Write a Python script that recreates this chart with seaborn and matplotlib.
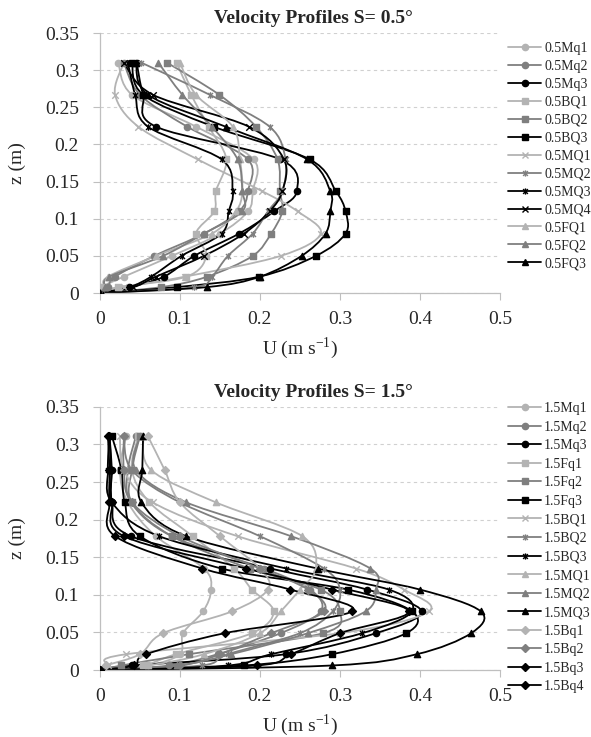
import numpy as np
import matplotlib
matplotlib.use("Agg")
import matplotlib.pyplot as plt
from matplotlib.path import Path
from matplotlib.patches import PathPatch
from matplotlib.lines import Line2D
import seaborn as sns

# depth levels (m)
z_top = [0, 0.008, 0.022, 0.05, 0.08, 0.11, 0.137, 0.18, 0.224, 0.267, 0.31]
z_bot = [0, 0.006, 0.021, 0.049, 0.078, 0.107, 0.135, 0.178, 0.223, 0.266, 0.311]

# S = 0.5 deg, velocity U (m/s) at each z_top level
u05_Mq1 = [0, 0.002, 0.03, 0.09, 0.15, 0.185, 0.191, 0.192, 0.12, 0.04, 0.023]
u05_Mq2 = [0, 0.01, 0.019, 0.068, 0.13, 0.174, 0.185, 0.185, 0.109, 0.05, 0.03]
u05_Mq3 = [0, 0.037, 0.08, 0.118, 0.174, 0.218, 0.246, 0.225, 0.07, 0.054, 0.046]
u05_BQ1 = [0, 0.023, 0.108, 0.133, 0.12, 0.143, 0.145, 0.158, 0.136, 0.114, 0.096]
u05_BQ2 = [0, 0.077, 0.134, 0.191, 0.214, 0.228, 0.225, 0.222, 0.195, 0.149, 0.084]
u05_BQ3 = [0, 0.096, 0.199, 0.27, 0.307, 0.307, 0.295, 0.262, 0.142, 0.054, 0.04]
u05_MQ1 = [0, 0.03, 0.106, 0.226, 0.276, 0.247, 0.203, 0.122, 0.048, 0.019, 0.03]
u05_MQ2 = [0, 0.118, 0.14, 0.16, 0.191, 0.21, 0.228, 0.232, 0.212, 0.137, 0.052]
u05_MQ3 = [0, 0.037, 0.064, 0.102, 0.152, 0.161, 0.166, 0.152, 0.06, 0.044, 0.035]
u05_MQ4 = [0, 0.042, 0.07, 0.13, 0.18, 0.212, 0.228, 0.23, 0.186, 0.066, 0.03]
u05_FQ1 = [0, 0.005, 0.01, 0.07, 0.14, 0.17, 0.178, 0.175, 0.166, 0.12, 0.1]
u05_FQ2 = [0, 0.006, 0.012, 0.079, 0.13, 0.178, 0.178, 0.172, 0.14, 0.103, 0.073]
u05_FQ3 = [0, 0.134, 0.2, 0.252, 0.282, 0.288, 0.288, 0.259, 0.157, 0.06, 0.045]

# S = 1.5 deg, velocity U (m/s) at each z_bot level
u15_Mq1 = [0, 0.06, 0.1, 0.104, 0.129, 0.139, 0.13, 0.07, 0.035, 0.025, 0.033]
u15_Mq2 = [0, 0.087, 0.147, 0.226, 0.276, 0.263, 0.205, 0.09, 0.039, 0.035, 0.045]
u15_Mq3 = [0, 0.04, 0.232, 0.345, 0.402, 0.334, 0.213, 0.039, 0.015, 0.015, 0.012]
u15_Fq1 = [0, 0.054, 0.095, 0.19, 0.217, 0.19, 0.168, 0.116, 0.062, 0.04, 0.048]
u15_Fq2 = [0, 0.027, 0.111, 0.279, 0.3, 0.276, 0.187, 0.09, 0.04, 0.04, 0.05]
u15_Fq3 = [0, 0.18, 0.29, 0.383, 0.39, 0.31, 0.152, 0.05, 0.031, 0.027, 0.015]
u15_BQ1 = [0, 0.01, 0.033, 0.3, 0.411, 0.38, 0.32, 0.172, 0.066, 0.03, 0.025]
u15_BQ2 = [0, 0.127, 0.16, 0.25, 0.291, 0.3, 0.28, 0.2, 0.1, 0.04, 0.03]
u15_BQ3 = [0, 0.16, 0.214, 0.328, 0.39, 0.361, 0.233, 0.074, 0.015, 0.01, 0.012]
u15_MQ1 = [0, 0.06, 0.13, 0.2, 0.226, 0.25, 0.27, 0.253, 0.145, 0.064, 0.054]
u15_MQ2 = [0, 0.097, 0.164, 0.26, 0.332, 0.345, 0.338, 0.239, 0.108, 0.045, 0.05]
u15_MQ3 = [0, 0.29, 0.396, 0.464, 0.476, 0.40, 0.272, 0.108, 0.052, 0.053, 0.054]
u15_Bq1 = [0, 0.008, 0.05, 0.079, 0.165, 0.21, 0.2, 0.15, 0.1, 0.081, 0.06]
u15_Bq2 = [0, 0.1, 0.15, 0.214, 0.28, 0.26, 0.2, 0.1, 0.04, 0.03, 0.03]
u15_Bq3 = [0, 0.043, 0.058, 0.156, 0.315, 0.238, 0.128, 0.019, 0.012, 0.012, 0.01]
u15_Bq4 = [0, 0.196, 0.239, 0.3, 0.386, 0.29, 0.183, 0.03, 0.015, 0.014, 0.012]

x_ticks = [0, 0.1, 0.2, 0.3, 0.4, 0.5]
x_ticklabels = ["0", "0.1", "0.2", "0.3", "0.4", "0.5"]
y_ticks = [0, 0.05, 0.1, 0.15, 0.2, 0.25, 0.3, 0.35]
y_ticklabels = ["0", "0.05", "0.1", "0.15", "0.2", "0.25", "0.3", "0.35"]

LIGHT, MID, DARK = "#b3b3b3", "#7f7f7f", "#000000"
star = Path([(-1, -1), (1, 1), (-1, 1), (1, -1), (0, -1.3), (0, 1.3)],
            [Path.MOVETO, Path.LINETO, Path.MOVETO, Path.LINETO, Path.MOVETO, Path.LINETO])

top_series = [
    ("0.5Mq1", u05_Mq1, LIGHT, "o"), ("0.5Mq2", u05_Mq2, MID, "o"), ("0.5Mq3", u05_Mq3, DARK, "o"),
    ("0.5BQ1", u05_BQ1, LIGHT, "s"), ("0.5BQ2", u05_BQ2, MID, "s"), ("0.5BQ3", u05_BQ3, DARK, "s"),
    ("0.5MQ1", u05_MQ1, LIGHT, "x"), ("0.5MQ2", u05_MQ2, MID, star), ("0.5MQ3", u05_MQ3, DARK, star),
    ("0.5MQ4", u05_MQ4, DARK, "x"),
    ("0.5FQ1", u05_FQ1, LIGHT, "^"), ("0.5FQ2", u05_FQ2, MID, "^"), ("0.5FQ3", u05_FQ3, DARK, "^"),
]
bot_series = [
    ("1.5Mq1", u15_Mq1, LIGHT, "o"), ("1.5Mq2", u15_Mq2, MID, "o"), ("1.5Mq3", u15_Mq3, DARK, "o"),
    ("1.5Fq1", u15_Fq1, LIGHT, "s"), ("1.5Fq2", u15_Fq2, MID, "s"), ("1.5Fq3", u15_Fq3, DARK, "s"),
    ("1.5BQ1", u15_BQ1, LIGHT, "x"), ("1.5BQ2", u15_BQ2, MID, star), ("1.5BQ3", u15_BQ3, DARK, star),
    ("1.5MQ1", u15_MQ1, LIGHT, "^"), ("1.5MQ2", u15_MQ2, MID, "^"), ("1.5MQ3", u15_MQ3, DARK, "^"),
    ("1.5Bq1", u15_Bq1, LIGHT, "D"), ("1.5Bq2", u15_Bq2, MID, "D"), ("1.5Bq3", u15_Bq3, DARK, "D"),
    ("1.5Bq4", u15_Bq4, DARK, "D"),
]

sns.set_theme(style="white")
plt.rcParams["font.family"] = ["Liberation Serif", "DejaVu Serif"]
plt.rcParams["mathtext.fontset"] = "custom"
plt.rcParams["mathtext.rm"] = "Liberation Serif"


def smooth(u, z):
    # excel-style smoothed line through the points (bezier segments)
    p = np.column_stack([u, z])
    verts, codes = [p[0]], [Path.MOVETO]
    for i in range(len(p) - 1):
        p0 = p[i - 1] if i > 0 else p[i]
        p3 = p[i + 2] if i + 2 < len(p) else p[i + 1]
        verts += [p[i] + (p[i + 1] - p0) / 6, p[i + 1] - (p3 - p[i]) / 6, p[i + 1]]
        codes += [Path.CURVE4] * 3
    return Path(verts, codes)


def msize(m):
    if m == "D":
        return 16
    if m == "x" or m is star:
        return 22
    return 20


def draw(ax, series, z, title, legend_xy, spacing):
    handles = []
    for name, u, c, m in series:
        ax.add_patch(PathPatch(smooth(u, z), fill=False, edgecolor=c, lw=1.3, zorder=2))
        sns.scatterplot(x=u, y=z, ax=ax, marker=m, color=c, edgecolor=c, s=msize(m),
                        linewidth=1.0, zorder=3, legend=False)
        handles.append(Line2D([], [], color=c, lw=1.3, marker=m, markersize=4.5,
                              markerfacecolor=c, markeredgecolor=c, markeredgewidth=1.0))
    ax.set_xlim(0, 0.5)
    ax.set_ylim(0, 0.35)
    ax.set_xticks(x_ticks)
    ax.set_xticklabels(x_ticklabels)
    ax.set_yticks(y_ticks)
    ax.set_yticklabels(y_ticklabels)
    ax.tick_params(axis="both", labelsize=14, length=5, width=0.8, color="#bfbfbf",
                   direction="out", bottom=True, left=True)
    ax.tick_params(axis="x", pad=8)
    ax.tick_params(axis="y", pad=10)
    ax.yaxis.grid(True, linestyle=(0, (3, 3)), color="#d0d0d0", lw=0.8)
    ax.xaxis.grid(False)
    for s in ["top", "right"]:
        ax.spines[s].set_visible(False)
    for s in ["left", "bottom"]:
        ax.spines[s].set_color("#bfbfbf")
        ax.spines[s].set_linewidth(0.9)
    ax.set_title(title, fontsize=14, fontweight="bold", pad=7, x=0.535)
    ax.set_xlabel(r"U (m s$^{\mathregular{-1}}$)", fontsize=14, labelpad=5)
    ax.set_ylabel("z (m)", fontsize=14, labelpad=14)
    fig.legend(handles, [s[0] for s in series], loc="upper left", bbox_to_anchor=legend_xy,
               frameon=False, fontsize=10, handlelength=2.4, handletextpad=0.2,
               labelspacing=spacing, borderaxespad=0, borderpad=0)


fig = plt.figure(figsize=(5.91, 7.37), dpi=100)
ax1 = fig.add_axes([0.169, 0.6024, 0.677, 0.3528])
ax2 = fig.add_axes([0.169, 0.0909, 0.677, 0.357])
draw(ax1, top_series, z_top, "Velocity Profiles S= 0.5°", (508 / 591, 1 - 42 / 737), 0.355)
draw(ax2, bot_series, z_bot, "Velocity Profiles S= 1.5°", (508 / 591, 1 - 402 / 737), 0.40)

fig.savefig("out.png", dpi=100)
